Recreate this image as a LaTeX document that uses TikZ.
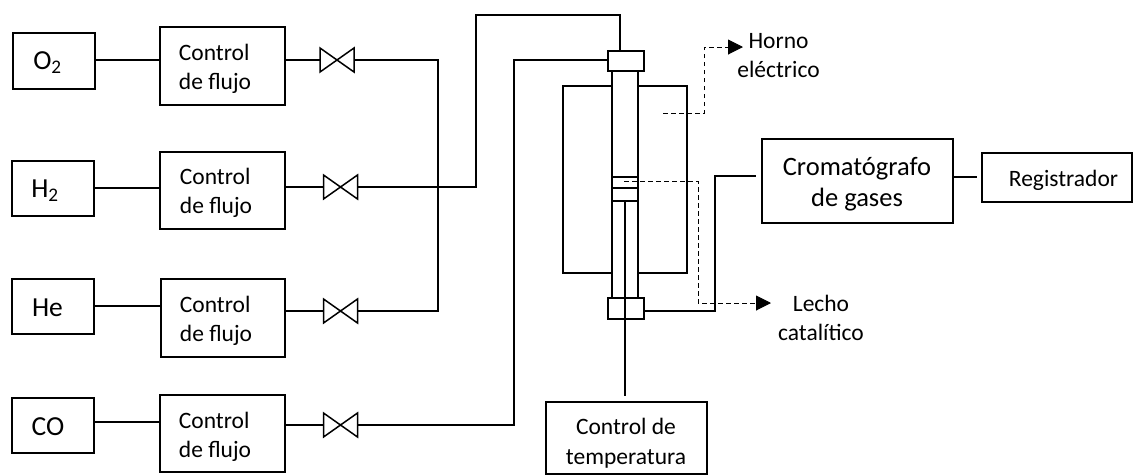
\documentclass[tikz,border=0pt]{standalone}
\usepackage{fontspec}
\setmainfont{Carlito}
\usetikzlibrary{arrows.meta}
\tikzset{
  x=1pt,y=-1pt,
  box/.style={draw=black,line width=1.5pt,fill=white,inner sep=0pt,outer sep=0pt},
  pipe/.style={draw=black,line width=1.5pt,line join=miter},
  thin pipe/.style={draw=black,line width=1.2pt},
  valvebody/.style={inner sep=0pt,outer sep=0pt,minimum width=34pt,minimum height=24pt},
  dashline/.style={draw=black,line width=1pt,dash pattern=on 4.5pt off 3.5pt,-{Triangle[length=15pt,width=15pt]}},
  txt/.style={font=\fontsize{23.5}{29}\selectfont,align=center,inner sep=0pt},
  txtleft/.style={font=\fontsize{23.5}{29}\selectfont,align=left,inner sep=0pt},
  gas/.style={font=\fontsize{27.5}{29}\selectfont,inner sep=0pt},
  big/.style={font=\fontsize{26.5}{31}\selectfont,align=center,inner sep=0pt},
}
\newcommand{\bx}[5]{\node[box,minimum width={(#4-#2)*1pt},minimum height={(#5-#3)*1pt}] (#1) at ({(#2+#4)/2},{(#3+#5)/2}) {};}
\newcommand{\valve}[3]{\node[valvebody] (#1) at (#2,#3) {};
  \draw[line width=1.5pt,line join=miter] (#1.north west) -- (#1.south east) -- (#1.north east) -- (#1.south west) -- cycle;}
\begin{document}
\begin{tikzpicture}
\useasboundingbox (0,0) rectangle (1133,475);
% gases
\bx{o2}{13}{33}{95}{89}
\bx{h2}{12}{161}{94}{216}
\bx{he}{12}{279}{94}{334}
\bx{co}{12}{398}{94}{453}
\node[gas] (to2) at (47.5,63) {O\textsubscript{2}};
\node[gas] (th2) at (45,191) {H\textsubscript{2}};
\node[gas] (the) at (47.5,307.5) {He};
\node[gas] (tco) at (48,427) {CO};
% flow controllers
\bx{c1}{160}{27}{285}{105}
\bx{c2}{160}{152}{285}{229}
\bx{c3}{161}{279}{285}{357}
\bx{c4}{160}{395}{285}{472}
\node[txtleft] (tc1) at (215,69) {Control\\de flujo};
\node[txtleft] (tc2) at (216,193) {Control\\de flujo};
\node[txtleft] (tc3) at (216,321) {Control\\de flujo};
\node[txtleft] (tc4) at (215,437) {Control\\de flujo};
% valves
\valve{v1}{337}{60}
\valve{v2}{340.5}{187}
\valve{v3}{340.5}{311}
\valve{v4}{340.5}{425}
% gas to controller
\draw[thin pipe] (o2.east |- 0,60) -- (c1.west |- 0,60);
\draw[thin pipe] (h2.east |- 0,188) -- (c2.west |- 0,188);
\draw[thin pipe] (he.east |- 0,306) -- (c3.west |- 0,306);
\draw[thin pipe] (co.east |- 0,422) -- (c4.west |- 0,422);
% controller to valve
\draw[thin pipe] (c1.east |- v1.west) -- (v1.west);
\draw[thin pipe] (c2.east |- v2.west) -- (v2.west);
\draw[thin pipe] (c3.east |- v3.west) -- (v3.west);
\draw[thin pipe] (c4.east |- v4.west) -- (v4.west);
% reactor
\bx{furnace}{563}{86}{687}{273}
\bx{tube}{612}{71}{638}{298}
\bx{topcap}{608}{51}{644}{71}
\bx{botcap}{608}{298}{644}{319}
\coordinate (bedA) at (612,177);
\coordinate (bedB) at (612,188);
\coordinate (bedC) at (612,201);
\draw[pipe] (bedA) -- (bedA -| tube.east);
\draw[pipe] (bedB) -- (bedB -| tube.east);
\draw[pipe] (bedC) -- (bedC -| tube.east);
% temperature control
\bx{temp}{546}{402}{707}{474}
\node[txt,font=\fontsize{23.5}{30}\selectfont] (ttemp) at (626,443.5) {Control de\\temperatura};
\coordinate (thermo) at (625,201);
\draw[thin pipe] (thermo) -- (625,396);
% manifolds
\draw[pipe] (v1.east) -- (438,60) -- (438,311) -- (v3.east);
\draw[pipe] (v2.east) -- (476,187) -- (476,15) -- (620,15) -- (topcap.north -| 620,0);
\draw[pipe] (v4.east) -- (514,425) -- (514,60) -- (topcap.west |- 0,60);
% chromatograph
\bx{gc}{762}{139}{953}{223}
\bx{reg}{982}{153}{1132}{202}
\node[big] (tgc) at (857,184.5) {Cromatógrafo\\de gases};
\node[txt] (treg) at (1063.5,180) {Registrador};
\coordinate (gcin) at (756,176);
\draw[pipe] (botcap.east |- 0,311) -- (715,311) -- (715,176) -- (gcin);
\draw[pipe] (gc.east |- 0,177) -- (977,177);
% dashed callouts
\coordinate (hornoA) at (663,113);
\coordinate (hornoB) at (743,47);
\coordinate (lechoA) at (624,181);
\coordinate (lechoB) at (771,303);
\draw[dashline] (hornoA) -- (704,113) -- (704,47) -- (hornoB);
\draw[dashline] (lechoA) -- (698,181) -- (698,303) -- (lechoB);
\node[txt] (thorno) at (778.5,55.5) {Horno\\eléctrico};
\node[txt] (tlecho) at (821,317.5) {Lecho\\catalítico};
\end{tikzpicture}
\end{document}
